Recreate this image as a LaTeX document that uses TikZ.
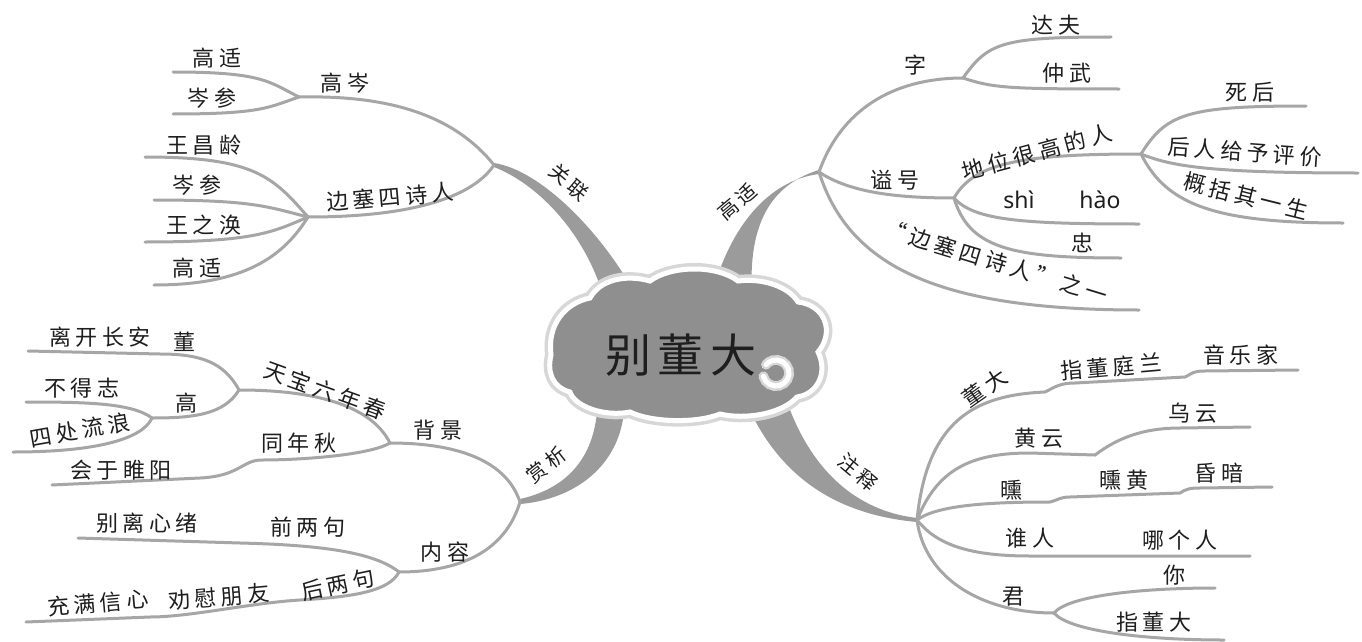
\documentclass[tikz,border=0pt]{standalone}
\usepackage{fontspec}
\newfontfamily\cjk[LetterSpace=20]{Noto Sans CJK SC}
\newfontfamily\cjkbig[LetterSpace=15]{Noto Sans CJK SC}
\newfontfamily\pyf{Noto Sans}
\definecolor{linegray}{RGB}{166,166,166}
\definecolor{branchgray}{RGB}{155,155,155}
\definecolor{cloudgray}{RGB}{143,143,143}
\definecolor{halogray}{RGB}{215,215,215}
\definecolor{txt}{RGB}{30,30,30}
\tikzset{
  conn/.style={draw=linegray, line width=3pt, line cap=round},
  lbl/.style={font=\cjk\fontsize{22}{22}\selectfont, inner sep=0pt, text=txt},
  mainlbl/.style={font=\cjk\fontsize{20}{20}\selectfont, inner sep=0pt, text=txt},
  pylbl/.style={font=\pyf\fontsize{23}{23}\selectfont, inner sep=0pt, text=txt},
  trunk/.style={fill=branchgray, draw=none}
}
\begin{document}
\begin{tikzpicture}[x=1pt,y=-1pt]
\useasboundingbox (0,0) rectangle (1362,642);
\fill[white] (0,0) rectangle (1362,642);

% ---------- junctions and ends ----------
\coordinate (J1) at (494,165);
\coordinate (Ja) at (299,97);
\coordinate (Jb) at (308,217);
\coordinate (a1) at (173,72);
\coordinate (a2) at (173,114);
\coordinate (b1) at (145,157);
\coordinate (b2) at (154,200);
\coordinate (b3) at (145,242);
\coordinate (b4) at (154,285);

\coordinate (J2) at (819,172);
\coordinate (Jc) at (963,78);
\coordinate (Jd) at (954,198);
\coordinate (Je) at (1141,154);
\coordinate (c1) at (1111,37);
\coordinate (c2) at (1119,89);
\coordinate (e1) at (1306,106);
\coordinate (e2) at (1358,173);
\coordinate (e3) at (1343,223);
\coordinate (d1) at (1139,224);
\coordinate (d2) at (1121,258);
\coordinate (f1) at (1139,310);

\coordinate (J3) at (520,502);
\coordinate (Jf) at (390,443);
\coordinate (Jg) at (239,390);
\coordinate (Jh) at (152,418);
\coordinate (Ji) at (399,572);
\coordinate (g1) at (28,351);
\coordinate (h1) at (26,402);
\coordinate (h2) at (13,452);
\coordinate (k1) at (52,485);
\coordinate (m1) at (78,538);
\coordinate (m2) at (26,622);

\coordinate (J4) at (917,520);
\coordinate (Jk) at (1054,613);
\coordinate (n1) at (1298,370);
\coordinate (n2) at (1250,427);
\coordinate (n3) at (1272,487);
\coordinate (n4) at (1250,556);
\coordinate (p1) at (1215,588);
\coordinate (p2) at (1224,640);

% ---------- thick trunks ----------
\path[trunk] (J1) ++(0,-2) .. controls (540,170) and (600,230) .. (636,295)
  -- (603,295) .. controls (585,235) and (540,185) .. (494,167) -- cycle;
\path[trunk] (J2) ++(0,-2) .. controls (770,185) and (748,225) .. (752,295)
  -- (712,295) .. controls (730,225) and (770,180) .. (819,174) -- cycle;
\path[trunk] (J3) ++(0,-3) .. controls (560,490) and (592,465) .. (597,412)
  -- (624,412) .. controls (618,470) and (570,500) .. (520,504) -- cycle;
\path[trunk] (J4) ++(0,-2) .. controls (865,512) and (815,480) .. (787,402)
  -- (746,402) .. controls (780,480) and (840,515) .. (917,522) -- cycle;

% ---------- upper left ----------
\draw[conn] (Ja) .. controls +(90,-2) and +(-40,-50) .. (J1);
\draw[conn] (Jb) .. controls +(110,0) and +(-20,30) .. (J1);
\draw[conn] (a1) .. controls +(90,0) and +(-30,-15) .. (Ja);
\draw[conn] (a2) .. controls +(90,0) and +(-30,10) .. (Ja);
\draw[conn] (b1) .. controls +(110,0) and +(-35,-40) .. (Jb);
\draw[conn] (b2) .. controls +(100,0) and +(-40,-10) .. (Jb);
\draw[conn] (b3) .. controls +(110,0) and +(-35,15) .. (Jb);
\draw[conn] (b4) .. controls +(90,0) and +(-25,40) .. (Jb);

% ---------- upper right ----------
\draw[conn] (J2) .. controls +(25,-70) and +(-60,0) .. (Jc);
\draw[conn] (Jc) .. controls +(25,-35) and +(-110,0) .. (c1);
\draw[conn] (Jc) .. controls +(30,10) and +(-110,0) .. (c2);
\draw[conn] (J2) .. controls +(30,20) and +(-60,0) .. (Jd);
\draw[conn] (Jd) .. controls +(20,-35) and +(-120,0) .. (Je);
\draw[conn] (Je) .. controls +(25,-40) and +(-120,0) .. (e1);
\draw[conn] (Je) .. controls +(30,12) and +(-150,0) .. (e2);
\draw[conn] (Je) .. controls +(25,50) and +(-130,0) .. (e3);
\draw[conn] (Jd) .. controls +(20,22) and +(-120,0) .. (d1);
\draw[conn] (Jd) .. controls +(15,50) and +(-110,0) .. (d2);
\draw[conn] (J2) .. controls +(30,95) and +(-200,0) .. (f1);

% ---------- lower left ----------
\draw[conn] (J3) .. controls +(-15,-45) and +(60,0) .. (Jf);
\draw[conn] (Jf) .. controls +(-20,-40) and +(70,0) .. (Jg);
\draw[conn] (Jg) .. controls +(-15,-28) and +(40,0) .. (160,354) -- (g1);
\draw[conn] (Jg) .. controls +(-15,25) and +(40,0) .. (Jh);
\draw[conn] (Jh) .. controls +(-20,-15) and +(60,0) .. (h1);
\draw[conn] (Jh) .. controls +(-10,22) and +(80,0) .. (h2);
\draw[conn] (Jf) .. controls +(-20,12) and +(40,0) .. (262,460)
  .. controls +(-20,0) and +(40,-2) .. (200,478) -- (k1);
\draw[conn] (J3) .. controls +(-15,50) and +(60,0) .. (Ji);
\draw[conn] (Ji) .. controls +(-25,-20) and +(80,2) .. (240,543) -- (m1);
\draw[conn] (Ji) .. controls +(-10,20) and +(50,-3) .. (300,600)
  .. controls +(-50,3) and +(40,0) .. (150,617) -- (m2);

% ---------- lower right ----------
\draw[conn] (J4) .. controls +(10,-100) and +(-70,3) .. (1045,392)
  .. controls +(10,-5) and +(-15,0) .. (1075,383) -- (1185,377)
  .. controls +(8,-4) and +(-12,0) .. (1205,371) -- (n1);
\draw[conn] (J4) .. controls +(20,-50) and +(-60,0) .. (1030,453) -- (1095,455)
  .. controls +(20,-15) and +(-40,0) .. (1180,428) -- (n2);
\draw[conn] (J4) .. controls +(20,-15) and +(-60,0) .. (1050,502)
  .. controls +(8,-2) and +(-10,0) .. (1070,497) -- (1180,493)
  .. controls +(6,-4) and +(-10,0) .. (1200,488) -- (n3);
\draw[conn] (J4) .. controls +(20,25) and +(-60,0) .. (1030,556) -- (n4);
\draw[conn] (J4) .. controls +(8,60) and +(-70,0) .. (Jk);
\draw[conn] (Jk) .. controls +(15,-18) and +(-70,0) .. (p1);
\draw[conn] (Jk) .. controls +(15,18) and +(-80,0) .. (p2);

% ---------- cloud ----------
\def\cloudpath{(551,355) .. controls (547,325) and (565,303) .. (590,298)
  .. controls (600,280) and (625,274) .. (650,281)
  .. controls (670,266) and (715,264) .. (738,281)
  .. controls (762,278) and (788,286) .. (798,302)
  .. controls (825,305) and (835,332) .. (818,352)
  .. controls (828,372) and (818,394) .. (797,397)
  .. controls (782,414) and (745,420) .. (720,414)
  .. controls (695,424) and (650,422) .. (630,412)
  .. controls (605,417) and (575,407) .. (570,392)
  .. controls (552,387) and (547,372) .. (551,355) -- cycle}
\draw[halogray, line width=12pt] \cloudpath;
\path[fill=cloudgray, draw=white, line width=5pt] \cloudpath;
% spiral curl
\draw[halogray, line width=10pt, line cap=round] (776,373) ++(165:13) arc[start angle=165, end angle=-140, radius=13];
\draw[white, line width=5pt, line cap=round] (776,373) ++(165:13) arc[start angle=165, end angle=-140, radius=13];
\fill[cloudgray] (776,373) circle[radius=8];
\node[font=\cjkbig\fontsize{46}{46}\selectfont, inner sep=0pt, text=txt] (title) at (681,355) {别董大};

% ---------- labels ----------
\node[mainlbl, rotate=-40] (guanlian) at (569,182) {关联};
\node[lbl] (t1) at (217,58) {高适};
\node[lbl] (t2) at (212,98) {岑参};
\node[lbl] (t3) at (345,83) {高岑};
\node[lbl] (t4) at (204,145) {王昌龄};
\node[lbl] (t5) at (197,185) {岑参};
\node[lbl, rotate=5] (t6) at (390,197) {边塞四诗人};
\node[lbl] (t7) at (204,225) {王之涣};
\node[lbl] (t8) at (197,268) {高适};

\node[mainlbl, rotate=40] (gaoshi) at (737,202) {高适};
\node[lbl] (u1) at (915,65) {字};
\node[lbl] (u2) at (1056,25) {达夫};
\node[lbl] (u3) at (1067,73) {仲武};
\node[lbl] (u4) at (895,180) {谥号};
\node[lbl, rotate=15] (u5) at (1037,152) {地位很高的人};
\node[lbl] (u6) at (1250,92) {死后};
\node[lbl, rotate=-4] (u7) at (1245,152) {后人给予评价};
\node[lbl, rotate=-14] (u8) at (1246,196) {概括其一生};
\node[pylbl] (u9) at (1019,200) {shì};
\node[pylbl] (u10) at (1100,200) {hào};
\node[lbl] (u11) at (1082,243) {忠};
\node[lbl, rotate=-17] (u12) at (996,262) {“边塞四诗人”之一};

\node[mainlbl, rotate=38] (shangxi) at (546,465) {赏析};
\node[lbl] (v1) at (438,430) {背景};
\node[lbl, rotate=-20] (v2) at (325,390) {天宝六年春};
\node[lbl] (v3) at (100,337) {离开长安};
\node[lbl] (v4) at (184,342) {董};
\node[lbl] (v5) at (82,388) {不得志};
\node[lbl] (v6) at (186,403) {高};
\node[lbl, rotate=10] (v7) at (80,430) {四处流浪};
\node[lbl] (v8) at (299,443) {同年秋};
\node[lbl] (v9) at (121,470) {会于睢阳};
\node[lbl] (v10) at (445,552) {内容};
\node[lbl] (v11) at (308,527) {前两句};
\node[lbl] (v12) at (147,523) {别离心绪};
\node[lbl, rotate=12] (v13) at (338,585) {后两句};
\node[lbl, rotate=5] (v14) at (219,597) {劝慰朋友};
\node[lbl, rotate=5] (v15) at (98,603) {充满信心};

\node[mainlbl, rotate=-40] (zhushi) at (858,472) {注释};
\node[lbl, rotate=35] (w1) at (985,388) {董大};
\node[lbl, rotate=5] (w2) at (1111,367) {指董庭兰};
\node[lbl] (w3) at (1241,355) {音乐家};
\node[lbl] (w4) at (1039,438) {黄云};
\node[lbl] (w5) at (1193,413) {乌云};
\node[lbl] (w6) at (1011,490) {曛};
\node[lbl] (w7) at (1124,480) {曛黄};
\node[lbl] (w8) at (1219,473) {昏暗};
\node[lbl] (w9) at (1030,538) {谁人};
\node[lbl] (w10) at (1180,540) {哪个人};
\node[lbl] (w11) at (1013,597) {君};
\node[lbl] (w12) at (1174,575) {你};
\node[lbl] (w13) at (1154,622) {指董大};
\end{tikzpicture}
\end{document}
